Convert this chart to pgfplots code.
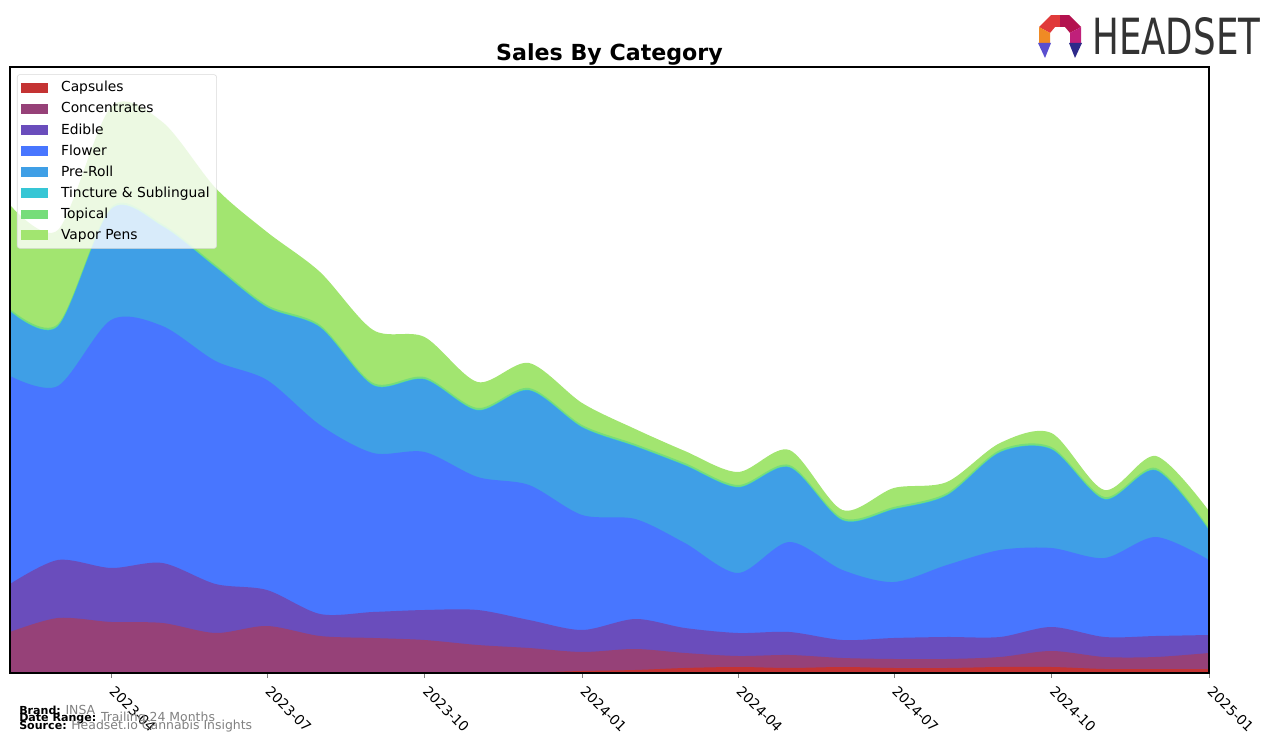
\documentclass[border=0pt]{standalone}
\usepackage{pgfplots}
\pgfplotsset{compat=1.18}
\usepackage{pgfplotstable}
\usepackage{fontspec}
\setmainfont{DejaVu Sans}
\usepackage{graphicx}

\definecolor{cCap}{RGB}{196,51,51}
\definecolor{cCon}{RGB}{150,65,120}
\definecolor{cEdi}{RGB}{106,77,188}
\definecolor{cFlo}{RGB}{72,118,255}
\definecolor{cPre}{RGB}{63,159,230}
\definecolor{cTin}{RGB}{54,198,213}
\definecolor{cTop}{RGB}{118,221,122}
\definecolor{cVap}{RGB}{162,229,112}
\definecolor{logotext}{RGB}{51,51,51}
\definecolor{lgA}{RGB}{224,58,58}
\definecolor{lgB}{RGB}{179,18,79}
\definecolor{lgC}{RGB}{240,138,36}
\definecolor{lgD}{RGB}{192,32,122}
\definecolor{lgE}{RGB}{90,79,207}
\definecolor{lgF}{RGB}{46,42,138}

% days since 2023-02-01; values are layer thicknesses
\pgfplotstableread{
d cap conc edi flo pre tin top vap
0 0 41 48 208 64.5 0.5 2 104
28 0 55 58 174 59.5 0.5 2 94
59 0 51 54 248 110.5 0.5 2 100
89 0 50 60 237 99.5 0.5 2 102
120 0 40 49 223 93.5 0.5 2 77
150 0 47 36 210 72.5 0.5 2 73
181 0 37 22 189 97.5 0.5 2 53
212 0 35 26 159 67.5 0.5 2 53
242 0 33 30 158 72.5 0.5 2 40
273 0 28 35 133 66.5 0.5 2 26
303 0.5 24.5 28 135 94.5 0.5 2 25
334 2 19 22 115 87.5 0.5 2 22
365 3 21 30 100 72.5 0.5 2 15
394 5 15 25 85 77.5 0.5 2 12
425 6 11 23 60 85.5 0.5 2 13
455 5 13 23 90 74.5 0.5 2 15
486 6 9 18 70 49.5 0.5 2 8
516 5 9 21 56 72.5 0.5 2 19
547 5 9 22 72 69.5 0.5 2 11
578 6 10 20 87 97.5 0.5 2 7
608 6 16 24 79 98.5 0.5 2 14
639 4 12 20 79 58.5 0.5 2 7
669 4 12 21 99 66.5 0.5 2 12
700 4 16 18 75 29.5 0.5 2 17
}\data
\pgfplotstablecreatecol[expr={\thisrow{cap}}]{s1}\data
\pgfplotstablecreatecol[expr={\thisrow{s1}+\thisrow{conc}}]{s2}\data
\pgfplotstablecreatecol[expr={\thisrow{s2}+\thisrow{edi}}]{s3}\data
\pgfplotstablecreatecol[expr={\thisrow{s3}+\thisrow{flo}}]{s4}\data
\pgfplotstablecreatecol[expr={\thisrow{s4}+\thisrow{pre}}]{s5}\data
\pgfplotstablecreatecol[expr={\thisrow{s5}+\thisrow{tin}}]{s6}\data
\pgfplotstablecreatecol[expr={\thisrow{s6}+\thisrow{top}}]{s7}\data
\pgfplotstablecreatecol[expr={\thisrow{s7}+\thisrow{vap}}]{s8}\data

\begin{document}
\begin{tikzpicture}
\useasboundingbox (-0.10in,-0.70in) rectangle (12.66in,6.73in);
\begin{axis}[
  scale only axis, width=11.99in, height=6.06in,
  xmin=0, xmax=700, ymin=0, ymax=606,
  axis on top,
  xtick={59,150,242,334,425,516,608,700},
  xticklabels={2023-04,2023-07,2023-10,2024-01,2024-04,2024-07,2024-10,2025-01},
  xticklabel style={rotate=-45, anchor=north west, font=\fontsize{10}{12}\selectfont, inner sep=1pt, xshift=5pt},
  ytick=\empty,
  tick align=outside, xtick pos=bottom,
  major tick length=3.5pt,
  axis line style={line width=0.8pt},
  title={Sales By Category},
  title style={at={(0.5,1)}, anchor=south, yshift=-8.6pt, font=\bfseries\fontsize{16}{19}\selectfont},
  legend style={at={(0.0058,0.988)}, anchor=north west, fill=white, fill opacity=0.8, text opacity=1, draw=black!15, draw opacity=1, rounded corners=2pt, font=\fontsize{10}{12}\selectfont, row sep=2.2pt, inner xsep=3pt, inner ysep=3pt},
  legend cell align=left,
  legend image code/.code={\fill[#1, draw=none, sharp corners, fill opacity=1] (0pt,-3.6pt) rectangle (19.4pt,3.6pt); \path (26.5pt,0pt);},
]
\addplot[fill=cVap, draw=none, smooth, forget plot] table[x=d, y=s8] {\data} \closedcycle;
\addplot[fill=cTop, draw=none, smooth, forget plot] table[x=d, y=s7] {\data} \closedcycle;
\addplot[fill=cTin, draw=none, smooth, forget plot] table[x=d, y=s6] {\data} \closedcycle;
\addplot[fill=cPre, draw=none, smooth, forget plot] table[x=d, y=s5] {\data} \closedcycle;
\addplot[fill=cFlo, draw=none, smooth, forget plot] table[x=d, y=s4] {\data} \closedcycle;
\addplot[fill=cEdi, draw=none, smooth, forget plot] table[x=d, y=s3] {\data} \closedcycle;
\addplot[fill=cCon, draw=none, smooth, forget plot] table[x=d, y=s2] {\data} \closedcycle;
\addplot[fill=cCap, draw=none, smooth, forget plot] table[x=d, y=s1] {\data} \closedcycle;
\addlegendimage{fill=cCap}\addlegendentry{Capsules}
\addlegendimage{fill=cCon}\addlegendentry{Concentrates}
\addlegendimage{fill=cEdi}\addlegendentry{Edible}
\addlegendimage{fill=cFlo}\addlegendentry{Flower}
\addlegendimage{fill=cPre}\addlegendentry{Pre-Roll}
\addlegendimage{fill=cTin}\addlegendentry{Tincture \& Sublingual}
\addlegendimage{fill=cTop}\addlegendentry{Topical}
\addlegendimage{fill=cVap}\addlegendentry{Vapor Pens}
\end{axis}
% footer
\node[anchor=west, inner sep=0, font=\fontsize{8}{9}\selectfont] at (0.09in,-0.37in) {\textbf{Brand:} \textcolor{gray}{\fontsize{9}{10}\selectfont INSA}};
\node[anchor=west, inner sep=0, font=\fontsize{8}{9}\selectfont] at (0.09in,-0.45in) {\textbf{Date Range:} \textcolor{gray}{\fontsize{9}{10}\selectfont Trailing 24 Months}};
\node[anchor=west, inner sep=0, font=\fontsize{8}{9}\selectfont] at (0.09in,-0.53in) {\textbf{Source:} \textcolor{gray}{\fontsize{9}{10}\selectfont Headset.io Cannabis Insights}};
% logo
\node[anchor=south west, inner sep=0, text=logotext] at (10.82in,6.18in) {\resizebox{1.68in}{0.37in}{HEADSET}};
\begin{scope}[shift={(10.50in,6.36in)}, x=0.01in, y=0.01in]
\fill[lgA] (-21,10) -- (-9,22) -- (0,22) -- (0,10) -- (-5,10) -- (-10,4) -- cycle;
\fill[lgB] (0,22) -- (9,22) -- (21,10) -- (10,4) -- (5,10) -- (0,10) -- cycle;
\fill[lgC] (-21,10) -- (-10,4) -- (-10,-6) -- (-21,-6) -- cycle;
\fill[lgD] (21,10) -- (10,4) -- (10,-6) -- (21,-6) -- cycle;
\fill[lgE] (-22,-6) -- (-9,-6) -- (-15,-21) -- cycle;
\fill[lgF] (9,-6) -- (22,-6) -- (15,-21) -- cycle;
\end{scope}
\end{tikzpicture}
\end{document}
